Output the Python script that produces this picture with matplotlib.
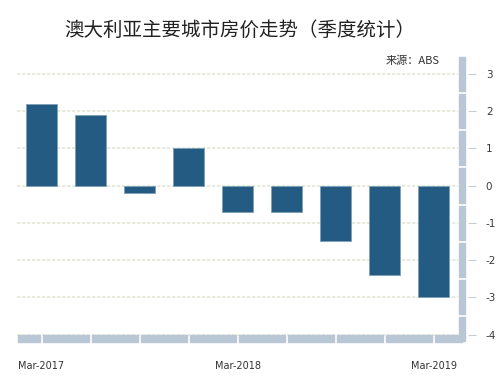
#澳大利亚主要城市房价走势（季度统计）
import matplotlib
matplotlib.use("Agg")
import matplotlib.pyplot as plt
from matplotlib.patches import Rectangle

plt.rcParams['font.family'] = ['Noto Sans CJK SC', 'DejaVu Sans']

#Quarterly change (%), Mar-2017 .. Mar-2019
quarters = ["Mar-2017", "Jun-2017", "Sep-2017", "Dec-2017", "Mar-2018",
            "Jun-2018", "Sep-2018", "Dec-2018", "Mar-2019"]
change = [2.2, 1.9, -0.2, 1.0, -0.7, -0.7, -1.5, -2.4, -3.0]
yticks = [3, 2, 1, 0, -1, -2, -3, -4]
xlabel_idx = [0, 4, 8]

ymin, ymax = -4.2, 3.5
strip_col = "#b9c6d3"

fig = plt.figure(figsize=(5, 3.8), dpi=100)
ax = fig.add_axes([0.034, 0.10, 0.882, 0.755])

x = list(range(len(quarters)))
ax.bar(x, change, width=0.64, color="#245b82", edgecolor="#7f9fb8",
       linewidth=0.6, zorder=3)

ax.set_xlim(-0.5, 8.5)
ax.set_ylim(ymin, ymax)

#gridlines
ax.set_yticks(yticks)
ax.grid(axis="y", color="#e3e7d6", linestyle=(0, (2, 1)), linewidth=1.2, zorder=0)

#right axis with ticks
for s in ["top", "left", "bottom"]:
    ax.spines[s].set_visible(False)
ax.spines["right"].set_color("none")
ax.spines["right"].set_position(("outward", 7))
ax.yaxis.tick_right()
ax.tick_params(axis="y", length=6, width=0.8, color="#c8ccd0", pad=7,
               labelsize=7.5, labelcolor="#3a3a3a", direction="out")
ax.set_yticklabels([str(t) for t in yticks], family="DejaVu Sans")

ax.set_xticks([x[i] for i in xlabel_idx])
ax.set_xticklabels([quarters[i] for i in xlabel_idx], fontsize=7,
                   color="#333333", family="DejaVu Sans")
ax.tick_params(axis="x", length=0, pad=14)

#gray segmented axis strips
# bottom: breaks under each bar centre
xb = [-0.5] + x + [8.62]
for a, b in zip(xb[:-1], xb[1:]):
    ax.add_patch(Rectangle((a + 0.03, ymin), b - a - 0.06, 0.18,
                           color=strip_col, clip_on=False, zorder=2))
# right: breaks at half units
yb = [ymin] + [t + 0.5 for t in sorted(yticks)[:-1]] + [ymax]
for a, b in zip(yb[:-1], yb[1:]):
    ax.add_patch(Rectangle((8.52, a + 0.04), 0.13, b - a - 0.08,
                           color=strip_col, clip_on=False, zorder=2))

fig.text(0.48, 0.92, "澳大利亚主要城市房价走势（季度统计）", ha="center",
         va="center", fontsize=14, color="#222222")
fig.text(0.88, 0.84, "来源：ABS", ha="right", va="center", fontsize=8,
         color="#333333")

plt.savefig("out.png", dpi=100)
